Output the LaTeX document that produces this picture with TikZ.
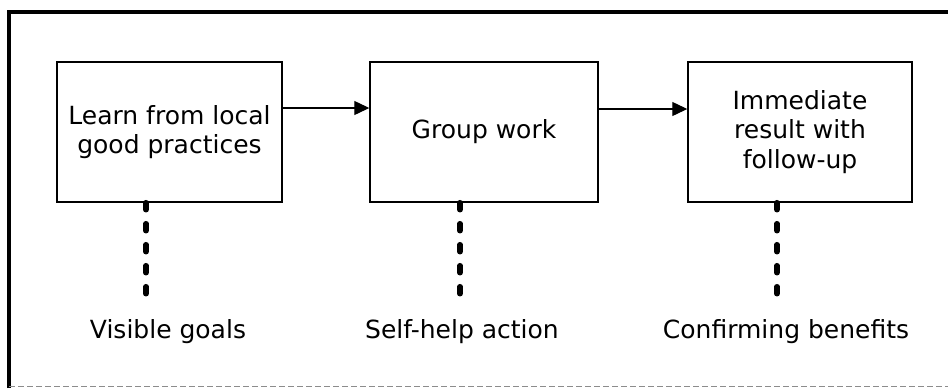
\documentclass[tikz,border=0pt]{standalone}
\usepackage{fontspec}
\setmainfont{DejaVu Sans}
\usetikzlibrary{arrows.meta}
\tikzset{
  stepbox/.style={draw, line width=1.4bp, minimum height=140bp, inner sep=0pt, align=center,
    font=\fontsize{25bp}{29.5bp}\selectfont},
  flowarrow/.style={line width=1.2bp, -{Triangle[length=15bp,width=14bp]}},
  dotline/.style={line width=5.5bp, line cap=round, dash pattern=on 7bp off 14bp},
  lbl/.style={font=\fontsize{25bp}{29bp}\selectfont, anchor=base, inner sep=0pt},
  frame/.style={line width=3.5bp}
}
\begin{document}
\begin{tikzpicture}[x=1bp,y=-1bp]
\useasboundingbox (0,0) rectangle (948,388);
% outer frame
\draw[frame] (9,388) -- (9,12) -- (948,12);
\draw[line width=1bp, black!45, dash pattern=on 6bp off 3bp] (9,386) -- (948,386);
% boxes
\node[stepbox, minimum width=225bp] (b1) at (169.5,132) {Learn from local\\good practices};
\node[stepbox, minimum width=228bp] (b2) at (484,132) {Group work};
\node[stepbox, minimum width=224bp] (b3) at (800,132) {Immediate\\result with\\follow-up};
% arrows
\draw[flowarrow] ([yshift=24bp]b1.east) -- ([yshift=24bp]b2.west);
\draw[flowarrow] ([yshift=23bp]b2.east) -- ([yshift=23bp]b3.west);
% dotted drops
\coordinate (d1) at (146,294);
\coordinate (d2) at (460,294);
\coordinate (d3) at (777,294);
\draw[dotline] (b1.south -| d1) -- (d1);
\draw[dotline] (b2.south -| d2) -- (d2);
\draw[dotline] (b3.south -| d3) -- (d3);
% labels
\node[lbl] (l1) at (168,338) {Visible goals};
\node[lbl] (l2) at (462,338) {Self-help action};
\node[lbl] (l3) at (786,338) {Confirming benefits};
\end{tikzpicture}
\end{document}
